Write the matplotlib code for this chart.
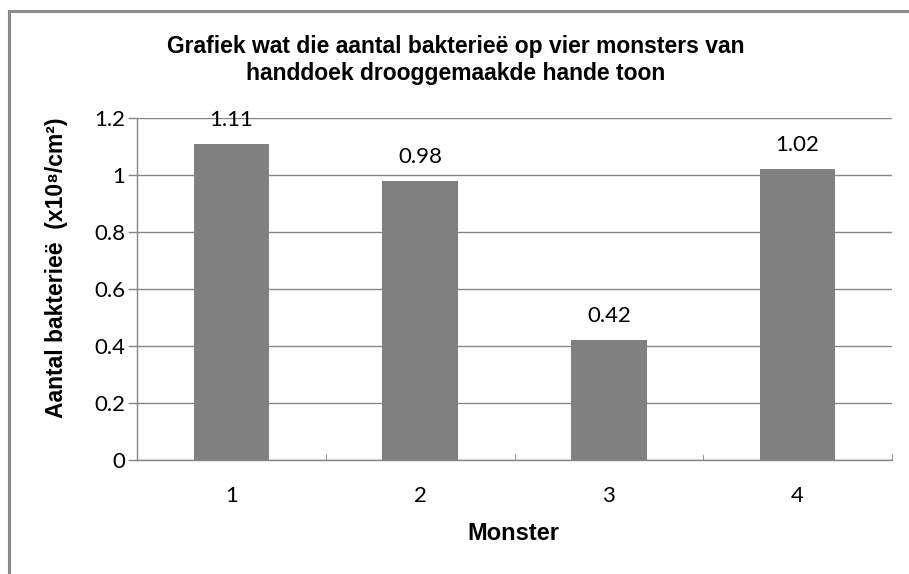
import numpy as np
import matplotlib.pyplot as plt
from matplotlib.patches import Rectangle

# data
monsters = ['1', '2', '3', '4']
bakterie = [1.11, 0.98, 0.42, 1.02]
y_ticks = [0, 0.2, 0.4, 0.6, 0.8, 1.0, 1.2]
y_tick_labels = ['0', '0.2', '0.4', '0.6', '0.8', '1', '1.2']

title = 'Grafiek wat die aantal bakterieë op vier monsters van\nhanddoek drooggemaakde hande toon'
x_label = 'Monster'
y_label = 'Aantal bakterieë  (x10⁸/cm²)'

grey = '#868686'
bar_grey = '#808080'
bold_font = ['Liberation Sans', 'DejaVu Sans']
num_font = ['Lato', 'DejaVu Sans']

W, H = 909, 574
fig = plt.figure(figsize=(W / 100, H / 100), dpi=100)
ax = fig.add_axes([137 / W, 1 - 460 / H, 755 / W, 342 / H])

# chart border (runs off the right and bottom edges in the original)
fig.patches.append(Rectangle((9 / W, -0.05), 1.2, 1 - 10.5 / H + 0.05,
                             transform=fig.transFigure, fill=False,
                             edgecolor='#8a8a8a', linewidth=2.2))

x = np.arange(len(monsters))
bars = ax.bar(x, bakterie, width=0.4, color=bar_grey, zorder=3)

for rect, val in zip(bars, bakterie):
    ax.annotate(f'{val:.2f}', (rect.get_x() + rect.get_width() / 2, val),
                xytext=(0, 10), textcoords='offset points',
                ha='center', va='bottom', fontsize=16, family=num_font)

ax.set_xlim(-0.5, len(monsters) - 0.5)
ax.set_ylim(0, 1.2)
ax.set_xticks(x)
ax.set_xticklabels(monsters, family=num_font, fontsize=16)
ax.set_yticks(y_ticks)
ax.set_yticklabels(y_tick_labels, family=num_font, fontsize=16)
ax.set_xticks(np.arange(len(monsters) + 1) - 0.5, minor=True)

ax.grid(axis='y', color=grey, linewidth=1, zorder=0)
ax.tick_params(axis='y', length=6.5, color=grey, width=1, pad=2)
ax.tick_params(axis='x', which='major', length=0, pad=19)
ax.tick_params(axis='x', which='minor', length=4.5, direction='in', color=grey)

for side in ['top', 'right']:
    ax.spines[side].set_visible(False)
for side in ['left', 'bottom']:
    ax.spines[side].set_color(grey)
    ax.spines[side].set_linewidth(1)

fig.text(513 / W, 1 - 533 / H, x_label, ha='center', va='center',
         family=bold_font, fontweight='bold', fontsize=17)
fig.text(56 / W, 1 - 268 / H, y_label, ha='center', va='center', rotation=90,
         family=bold_font, fontweight='bold', fontsize=16.5)

fig.text(456 / W, 1 - 60 / H, title, ha='center', va='center', family=bold_font,
         fontweight='bold', fontsize=16.5, linespacing=1.22)

fig.savefig('out.png', dpi=100)
